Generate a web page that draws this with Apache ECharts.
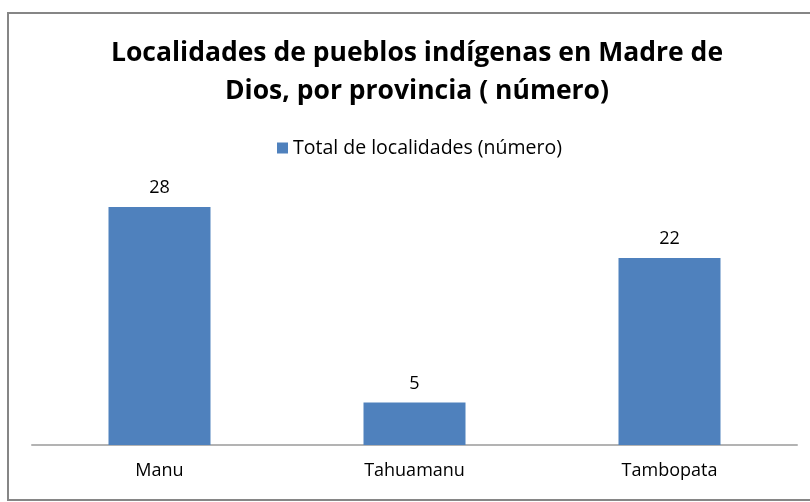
<!DOCTYPE html>
<html>
<head>
<meta charset="utf-8">
<script src="https://cdn.jsdelivr.net/npm/echarts@6/dist/echarts.min.js"></script>
<style>
  html, body { margin: 0; padding: 0; background: #fff; }
  #chart { width: 810px; height: 502px; }
</style>
</head>
<body>
<div id="chart"></div>
<script>
// datos de la figura
var provincias = ['Manu', 'Tahuamanu', 'Tambopata'];
var localidades = [28, 5, 22];
var serieNombre = 'Total de localidades (número)';
var titulo = 'Localidades de pueblos indígenas en Madre de\nDios, por provincia ( número)';

var chart = echarts.init(document.getElementById('chart'));
var option = {
    animation: false,
    backgroundColor: '#fff',
    textStyle: { fontFamily: 'Open Sans' },
    graphic: [
        {
            type: 'rect',
            shape: { x: 8, y: 13, width: 820, height: 487 },
            style: { fill: 'none', stroke: '#868686', lineWidth: 2 }
        }
    ],
    title: {
        text: titulo,
        left: 412,
        top: 29,
        textAlign: 'center',
        textStyle: {
            fontSize: 26.5,
            fontWeight: 'bold',
            color: '#000',
            lineHeight: 38,
            fontFamily: 'Open Sans'
        }
    },
    legend: {
        data: [serieNombre],
        top: 133,
        left: 272,
        icon: 'rect',
        itemWidth: 11,
        itemHeight: 11,
        itemGap: 6,
        textStyle: { fontSize: 19.5, color: '#000' }
    },
    grid: {
        left: 32,
        right: 13,
        top: 190,
        bottom: 57,
        containLabel: false
    },
    xAxis: {
        type: 'category',
        data: provincias,
        axisLine: { lineStyle: { color: '#b3b3b3', width: 2 } },
        axisTick: { show: false },
        axisLabel: { fontSize: 18, color: '#000', margin: 17 }
    },
    yAxis: {
        type: 'value',
        min: 0,
        max: 30,
        show: false,
        splitLine: { show: false }
    },
    series: [
        {
            name: serieNombre,
            type: 'bar',
            data: localidades,
            barWidth: '40%',
            itemStyle: { color: '#4f81bd' },
            label: {
                show: true,
                position: 'top',
                distance: 10,
                fontSize: 18,
                color: '#000'
            }
        }
    ]
};
chart.setOption(option);
</script>
</body>
</html>
